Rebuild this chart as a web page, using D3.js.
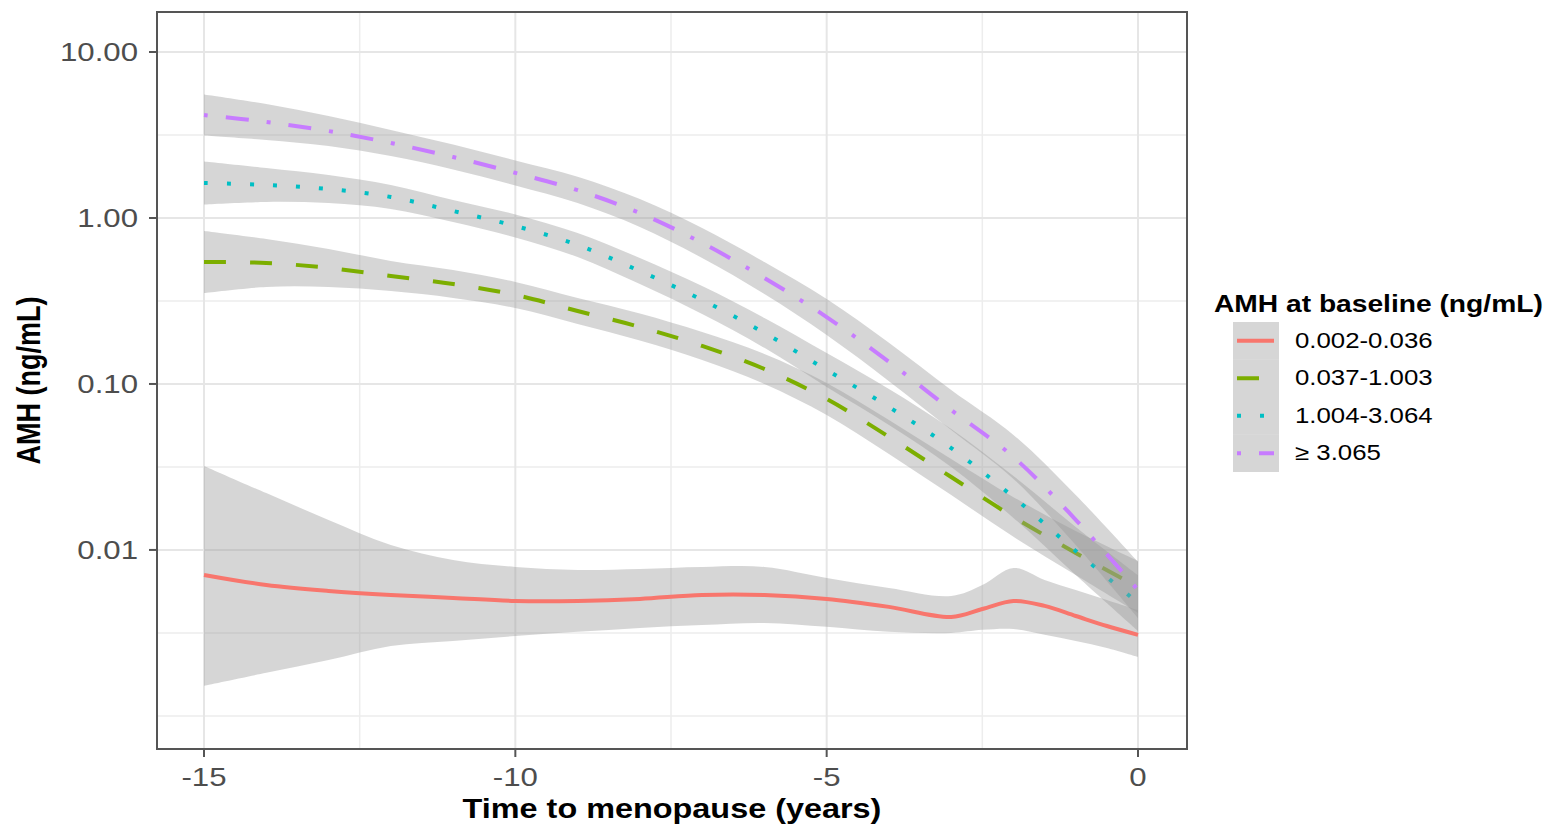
<!DOCTYPE html>
<html>
<head>
<meta charset="utf-8">
<script src="https://d3js.org/d3.v7.min.js"></script>
<style>
  body { margin: 0; background: #fff; }
  text { font-family: "Liberation Sans", Arial, Helvetica, sans-serif; }
</style>
</head>
<body>
<script>
// values (AMH, ng/mL), fitted curve with its confidence band
const years = [-15,-14,-13,-12,-11,-10,-9,-8,-7,-6,-5,-4,-3,-2,-1,0];
const redYears = [-15,-14,-13,-12,-11,-10,-9,-8,-7,-6,-5,-4,-3,-2.5,-2,-1.5,-1,-0.5,0];

const redFit   = [0.00707,0.00615,0.00566,0.00535,0.00514,0.00493,0.00493,0.00507,0.00535,0.00535,0.00507,0.00454,0.00395,0.00441,0.00493,0.0046,0.004,0.00348,0.00308];
const redLow   = [0.00152,0.00182,0.00217,0.00264,0.00283,0.00303,0.00321,0.00339,0.00353,0.00363,0.00344,0.00321,0.00316,0.0033,0.00334,0.00308,0.00283,0.00257,0.00227];
const redHigh  = [0.0321,0.022,0.01516,0.01072,0.0087,0.0079,0.00758,0.00769,0.0079,0.0079,0.00678,0.0059,0.00528,0.00615,0.00779,0.0066,0.00574,0.005,0.00435];

const greenFit  = [0.543,0.536,0.5,0.447,0.4,0.344,0.275,0.2205,0.1694,0.1231,0.0812,0.048,0.0275,0.0158,0.0096,0.00598];
const greenLow  = [0.353,0.384,0.384,0.363,0.33,0.287,0.23,0.183,0.1395,0.1,0.0651,0.0379,0.0214,0.012,0.00706,0.00417];
const greenHigh = [0.835,0.747,0.651,0.551,0.486,0.412,0.33,0.266,0.2057,0.1516,0.1014,0.0607,0.0353,0.0208,0.013,0.00859];

const cyanFit  = [1.625,1.58,1.495,1.338,1.102,0.895,0.688,0.479,0.321,0.203,0.1214,0.0727,0.0411,0.0208,0.00986,0.0048];
const cyanLow  = [1.206,1.25,1.23,1.133,0.946,0.763,0.582,0.4,0.264,0.165,0.0959,0.0566,0.0316,0.0156,0.00706,0.00325];
const cyanHigh = [2.19,2.0,1.815,1.58,1.283,1.05,0.812,0.574,0.389,0.25,0.1537,0.0933,0.0536,0.0279,0.01377,0.00706];

const purpleFit  = [4.17,3.79,3.34,2.83,2.33,1.87,1.47,1.07,0.707,0.435,0.253,0.136,0.0697,0.0363,0.0152,0.00574];
const purpleLow  = [3.14,2.95,2.71,2.36,1.96,1.57,1.23,0.883,0.574,0.348,0.197,0.104,0.0528,0.0268,0.0107,0.00389];
const purpleHigh = [5.55,4.86,4.12,3.39,2.77,2.22,1.77,1.3,0.871,0.543,0.325,0.177,0.092,0.0493,0.0214,0.00848];

const groupLabels = ["0.002-0.036","0.037-1.003","1.004-3.064","\u2265 3.065"];
const groupColors = ["#F8766D","#7CAE00","#00BFC4","#C77CFF"];
const groupDash   = [null,"22,24","4,19","4,18,23,18"];

const xTicks = [-15,-10,-5,0];
const xMinor = [-12.5,-7.5,-2.5];
const yTicks = [10,1,0.1,0.01];
const yTickLabels = ["10.00","1.00","0.10","0.01"];
const yMinor = [3.162,0.3162,0.03162,0.003162,0.001];

const width = 1547, height = 825;
const panel = {left: 157, right: 1187, top: 12, bottom: 749};
const sx = 1.2; // picture is stretched sideways

const svg = d3.select('body').append('svg')
    .attr('width', width)
    .attr('height', height);

const x = d3.scaleLinear().domain([-15.755, 0.787]).range([panel.left, panel.right]);
const y = d3.scaleLog().domain([0.000632, 17.42]).range([panel.bottom, panel.top]);

const addText = (g, px, py, s, size, opts) => {
    opts = opts || {};
    let t = g.append('text')
        .attr('transform', 'translate(' + px + ',' + py + ') scale(' + sx + ',1)' + (opts.rotate ? ' rotate(' + opts.rotate + ')' : ''))
        .attr('font-size', size)
        .attr('text-anchor', opts.anchor || 'start')
        .attr('fill', opts.fill || '#000')
        .text(s);
    if (opts.bold) t.attr('font-weight', 'bold');
    if (opts.middle) t.attr('dominant-baseline', 'central');
    return t;
};

// grid
const grid = svg.append('g');
grid.selectAll('.ymin').data(yMinor).enter().append('line')
    .attr('x1', panel.left).attr('x2', panel.right)
    .attr('y1', d => y(d)).attr('y2', d => y(d))
    .attr('stroke', '#ededed').attr('stroke-width', 1.5);
grid.selectAll('.xmin').data(xMinor).enter().append('line')
    .attr('y1', panel.top).attr('y2', panel.bottom)
    .attr('x1', d => x(d)).attr('x2', d => x(d))
    .attr('stroke', '#ededed').attr('stroke-width', 1.5);
grid.selectAll('.ymaj').data(yTicks).enter().append('line')
    .attr('x1', panel.left).attr('x2', panel.right)
    .attr('y1', d => y(d)).attr('y2', d => y(d))
    .attr('stroke', '#e6e6e6').attr('stroke-width', 2);
grid.selectAll('.xmaj').data(xTicks).enter().append('line')
    .attr('y1', panel.top).attr('y2', panel.bottom)
    .attr('x1', d => x(d)).attr('x2', d => x(d))
    .attr('stroke', '#e6e6e6').attr('stroke-width', 2);

// smooths
const groups = [
    {xs: redYears, fit: redFit, low: redLow, high: redHigh},
    {xs: years, fit: greenFit, low: greenLow, high: greenHigh},
    {xs: years, fit: cyanFit, low: cyanLow, high: cyanHigh},
    {xs: years, fit: purpleFit, low: purpleLow, high: purpleHigh}
];

const area = d3.area()
    .x(d => x(d.t)).y0(d => y(d.lo)).y1(d => y(d.hi))
    .curve(d3.curveCatmullRom.alpha(0.5));
const line = d3.line()
    .x(d => x(d.t)).y(d => y(d.v))
    .curve(d3.curveCatmullRom.alpha(0.5));

groups.forEach((gr, i) => {
    let pts = gr.xs.map((t, k) => ({t: t, v: gr.fit[k], lo: gr.low[k], hi: gr.high[k]}));
    svg.append('path').datum(pts)
        .attr('d', area)
        .attr('fill', '#999999').attr('fill-opacity', 0.4);
    let p = svg.append('path').datum(pts)
        .attr('d', line)
        .attr('fill', 'none')
        .attr('stroke', groupColors[i])
        .attr('stroke-width', 4);
    if (groupDash[i]) p.attr('stroke-dasharray', groupDash[i]);
});

// panel border
svg.append('rect')
    .attr('x', panel.left).attr('y', panel.top)
    .attr('width', panel.right - panel.left).attr('height', panel.bottom - panel.top)
    .attr('fill', 'none').attr('stroke', '#555').attr('stroke-width', 2);

// axes ticks and labels
const axes = svg.append('g');
xTicks.forEach(d => {
    axes.append('line')
        .attr('x1', x(d)).attr('x2', x(d))
        .attr('y1', panel.bottom).attr('y2', panel.bottom + 8)
        .attr('stroke', '#555').attr('stroke-width', 2);
    addText(axes, x(d), 786, d3.format('d')(d).replace('\u2212', '-'), 26, {anchor: 'middle', fill: '#4d4d4d'});
});
yTicks.forEach((d, i) => {
    axes.append('line')
        .attr('x1', panel.left - 8).attr('x2', panel.left)
        .attr('y1', y(d)).attr('y2', y(d))
        .attr('stroke', '#555').attr('stroke-width', 2);
    addText(axes, 138, y(d), yTickLabels[i], 26, {anchor: 'end', fill: '#4d4d4d', middle: true});
});

addText(axes, (panel.left + panel.right) / 2, 818, 'Time to menopause (years)', 27, {anchor: 'middle', bold: true});
addText(axes, 40, (panel.top + panel.bottom) / 2, 'AMH (ng/mL)', 27, {anchor: 'middle', bold: true, rotate: -90});

// legend
const legend = svg.append('g');
addText(legend, 1214, 312, 'AMH at baseline (ng/mL)', 23.5, {bold: true});
const keyX = 1233, keyY = 322, keyW = 46, keyH = 37.5;
groupLabels.forEach((lab, i) => {
    let cy = keyY + keyH * i + keyH / 2;
    legend.append('rect')
        .attr('x', keyX).attr('y', keyY + keyH * i)
        .attr('width', keyW).attr('height', keyH)
        .attr('fill', '#999999').attr('fill-opacity', 0.4);
    let l = legend.append('line')
        .attr('x1', keyX + 4).attr('x2', keyX + keyW - 5)
        .attr('y1', cy).attr('y2', cy)
        .attr('stroke', groupColors[i]).attr('stroke-width', 4);
    if (groupDash[i]) l.attr('stroke-dasharray', groupDash[i]);
    addText(legend, 1295, cy, lab, 21.5, {middle: true});
});
</script>
</body>
</html>
